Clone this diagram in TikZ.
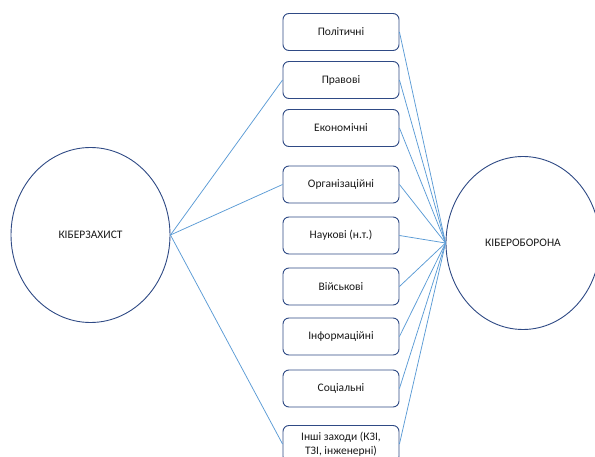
\documentclass[tikz,border=0pt]{standalone}
\usepackage{fontspec}
\setmainfont{Carlito}
\usetikzlibrary{shapes.geometric}
\definecolor{boxline}{HTML}{2F4A85}
\definecolor{link}{HTML}{5B9BD5}
\definecolor{txt}{HTML}{1A1A1A}
\begin{document}
\begin{tikzpicture}[x=1pt,y=-1pt,
  item/.style={draw=boxline, line width=0.9pt, rounded corners=6pt, fill=white,
    minimum width=116pt, minimum height=37pt, inner sep=1pt, align=center,
    text=txt, font=\fontsize{11.5}{13.5}\selectfont},
  big/.style={draw=boxline, line width=0.9pt, ellipse, fill=white, text=txt,
    font=\fontsize{11.5}{13.5}\selectfont},
  conn/.style={draw=link, line width=0.75pt}]
\useasboundingbox (0,0) rectangle (595,457);
\clip (0,0) rectangle (595,457);
\node[big, minimum width=159pt, minimum height=175pt] (zah) at (90.5,235) {КІБЕРЗАХИСТ};
\node[big, minimum width=154pt, minimum height=173pt] (obor) at (523,243) {КІБЕРОБОРОНА};
\node[item] (b1) at (341,32) {Політичні};
\node[item] (b2) at (341,80) {Правові};
\node[item] (b3) at (341,128) {Економічні};
\node[item] (b4) at (341,184.5) {Організаційні};
\node[item] (b5) at (341,235.5) {Наукові (н.т.)};
\node[item] (b6) at (341,286.5) {Військові};
\node[item] (b7) at (341,336.5) {Інформаційні};
\node[item] (b8) at (341,388.5) {Соціальні};
\node[item] (b9) at (341,444) {Інші заходи (КЗІ,\\ТЗІ, інженерні)};
\draw[conn] (zah.east) -- (b2.west);
\draw[conn] (zah.east) -- (b4.west);
\draw[conn] (zah.east) -- (b9.west);
\foreach \b in {b1,b2,b3,b4,b5,b6,b7,b8,b9}
  \draw[conn] (\b.east) -- (obor.west);
\end{tikzpicture}
\end{document}
